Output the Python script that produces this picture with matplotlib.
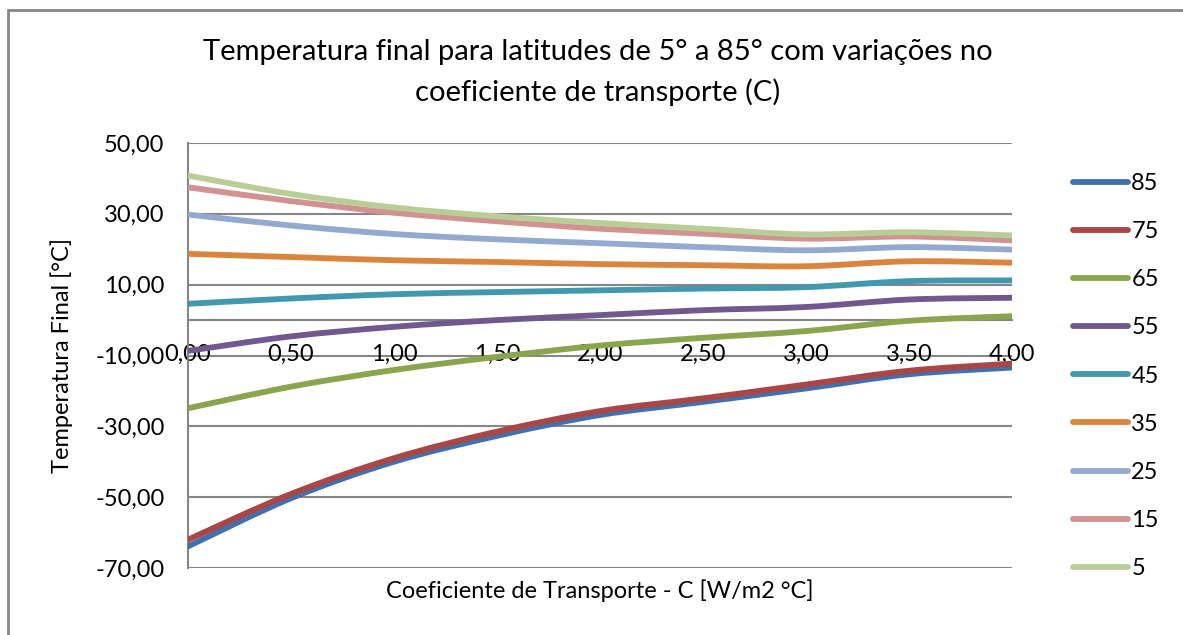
import matplotlib
matplotlib.use("Agg")
import matplotlib.pyplot as plt
from matplotlib.path import Path
from matplotlib.patches import PathPatch, Rectangle
from matplotlib.lines import Line2D
from matplotlib.ticker import FuncFormatter
import numpy as np

plt.rcParams['font.family'] = ['Lato', 'DejaVu Sans']

# Data
coef_c = [0.0, 0.5, 1.0, 1.5, 2.0, 2.5, 3.0, 3.5, 4.0]
latitudes = ['85', '75', '65', '55', '45', '35', '25', '15', '5']
t85 = [-63.9, -50.3, -40.0, -32.7, -26.8, -23.1, -19.3, -15.3, -13.4]
t75 = [-62.0, -49.1, -39.0, -31.5, -25.7, -22.1, -18.2, -14.3, -12.3]
t65 = [-24.9, -18.8, -14.1, -10.4, -7.2, -5.0, -3.1, -0.2, 1.1]
t55 = [-8.7, -4.6, -1.9, 0.0, 1.4, 2.8, 3.7, 5.8, 6.3]
t45 = [4.6, 6.1, 7.3, 7.9, 8.4, 8.9, 9.3, 11.0, 11.2]
t35 = [18.7, 17.8, 16.9, 16.4, 15.8, 15.5, 15.2, 16.6, 16.2]
t25 = [29.8, 26.7, 24.3, 22.8, 21.7, 20.6, 19.7, 20.6, 19.9]
t15 = [37.5, 33.6, 30.3, 27.9, 25.8, 24.4, 23.0, 23.6, 22.5]
t5 = [40.8, 35.6, 31.8, 29.3, 27.4, 25.8, 24.2, 24.8, 23.9]
series = [t85, t75, t65, t55, t45, t35, t25, t15, t5]
colors = ['#4270AE', '#AA4643', '#89A54E', '#71588F', '#4198AF',
          '#DB843D', '#93A9CF', '#D19392', '#B9CD96']

x_ticks = [0.0, 0.5, 1.0, 1.5, 2.0, 2.5, 3.0, 3.5, 4.0]
y_ticks = [-70, -50, -30, -10, 10, 30, 50]
title_lines = ['Temperatura final para latitudes de 5° a 85° com variações no',
               'coeficiente de transporte (C)']


def smooth_path(xs, ys):
    """Excel-style smoothed line: cubic Bezier segments through the points."""
    pts = np.column_stack([xs, ys]).astype(float)
    n = len(pts)
    verts = [pts[0]]
    codes = [Path.MOVETO]
    for i in range(n - 1):
        p0 = pts[i - 1] if i > 0 else pts[i]
        p1 = pts[i]
        p2 = pts[i + 1]
        p3 = pts[i + 2] if i + 2 < n else pts[i + 1]
        c1 = p1 + (p2 - p0) / 6.0
        c2 = p2 - (p3 - p1) / 6.0
        verts += [c1, c2, p2]
        codes += [Path.CURVE4, Path.CURVE4, Path.CURVE4]
    return Path(verts, codes)


W, H = 1183, 635
fig = plt.figure(figsize=(W / 100, H / 100), dpi=100)
ax = fig.add_axes([188 / W, 1 - 568 / H, (1012 - 188) / W, (568 - 143) / H])

grid_c = '#868686'
for v in y_ticks:
    ax.axhline(v, color=grid_c, lw=1.5, zorder=1)

for ys, c in zip(series, colors):
    patch = PathPatch(smooth_path(coef_c, ys), fill=False, edgecolor=c,
                      lw=4.2, capstyle='round', joinstyle='round', zorder=3)
    ax.add_patch(patch)

ax.set_xlim(0, 4)
ax.set_ylim(-70, 50)
ax.set_xticks(x_ticks)
ax.set_yticks(y_ticks)
fmt = FuncFormatter(lambda v, p: f"{v:.2f}".replace('.', ','))
ax.xaxis.set_major_formatter(fmt)
ax.yaxis.set_major_formatter(fmt)

for s in ['top', 'right']:
    ax.spines[s].set_visible(False)
ax.spines['bottom'].set_position(('data', 0))
ax.spines['bottom'].set_color(grid_c)
ax.spines['bottom'].set_linewidth(1.5)
ax.spines['left'].set_color(grid_c)
ax.spines['left'].set_linewidth(1.5)
ax.tick_params(axis='x', length=0, pad=17, labelsize=17)
ax.tick_params(axis='y', length=0, pad=17, labelsize=17)

ax.set_ylabel('Temperatura Final [°C]', fontsize=17)
ax.yaxis.set_label_coords(-0.140, 0.5)
fig.text(600 / W, 1 - 591 / H, 'Coeficiente de Transporte - C [W/m2 °C]',
         ha='center', va='center', fontsize=17)
fig.text(598 / W, 1 - 52 / H, title_lines[0], ha='center', va='center', fontsize=21)
fig.text(598 / W, 1 - 92 / H, title_lines[1], ha='center', va='center', fontsize=21)

handles = [Line2D([], [], color=c, lw=4.2, solid_capstyle='round') for c in colors]
leg = fig.legend(handles, latitudes, loc='upper left',
                 bbox_to_anchor=(1073 / W, 1 - 173 / H), frameon=False,
                 fontsize=17, handlelength=2.35, handletextpad=0.12,
                 labelspacing=1.15, borderaxespad=0, borderpad=0)

fig.patches.append(Rectangle((8 / W, -0.1), 1.2, 1 - 10 / H + 0.1,
                             transform=fig.transFigure, fill=False,
                             edgecolor=grid_c, lw=2))

fig.savefig('out.png', dpi=100)
